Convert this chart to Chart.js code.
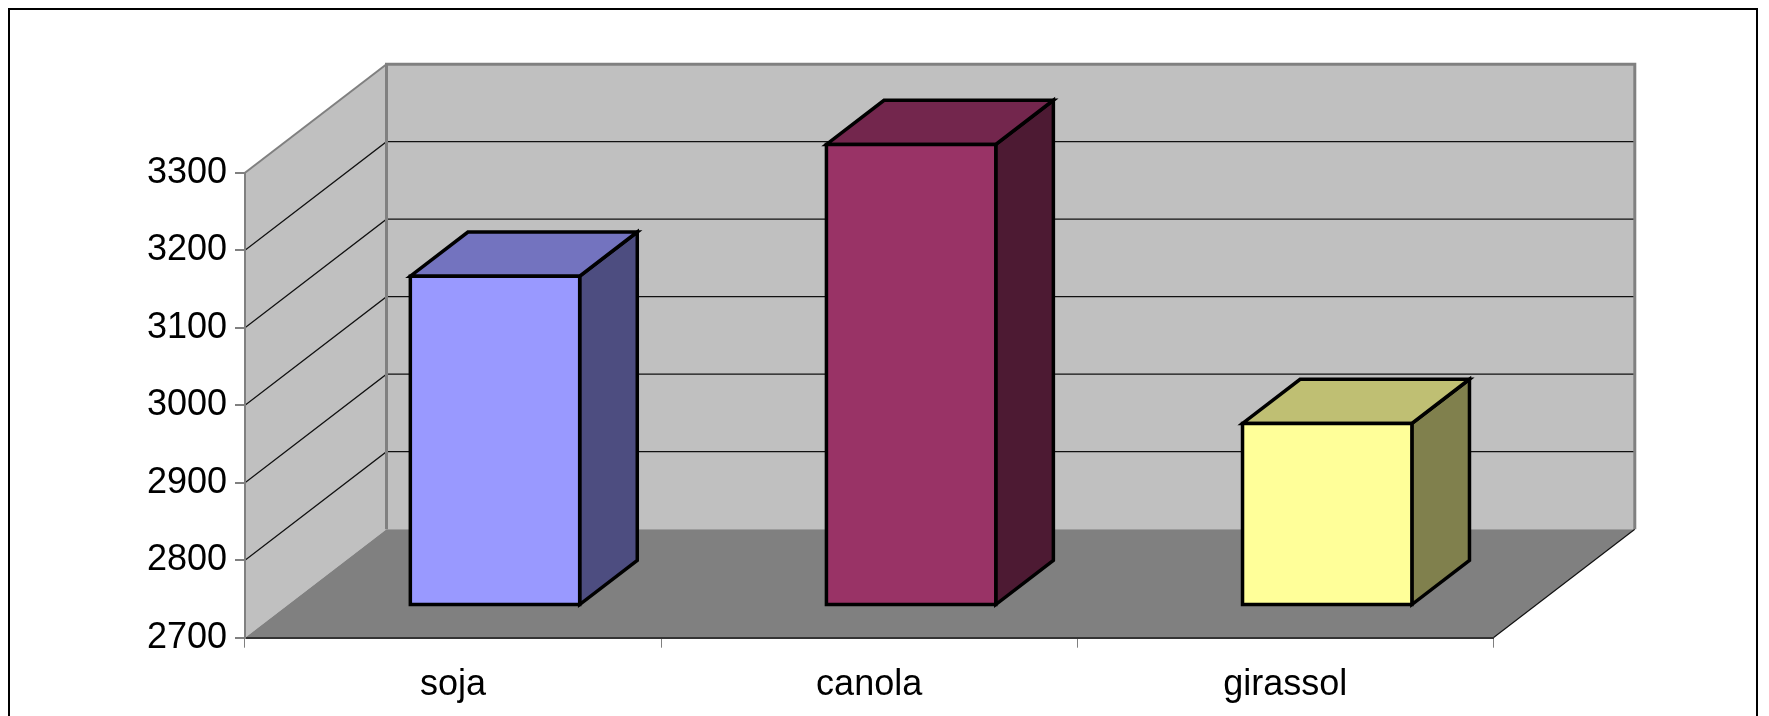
<!DOCTYPE html>
<html>
<head>
<meta charset="utf-8">
<script src="https://cdn.jsdelivr.net/npm/chart.js@4/dist/chart.umd.min.js"></script>
<style>
  html, body { margin: 0; padding: 0; background: #fff; overflow: hidden; }
  #wrap { position: relative; width: 1769px; height: 716px; }
</style>
</head>
<body>
<div id="wrap"><canvas id="c" width="1769" height="716"></canvas></div>
<script>
// Data
const categories = ['soja', 'canola', 'girassol'];
const values = [3125, 3295, 2935];
const yMin = 2700;
const yMax = 3300;
const yStep = 100;

// Face colours for each column (front, top, side)
const frontColors = ['#9999FF', '#993366', '#FFFF99'];
const topColors = ['#7373BF', '#73264D', '#BFBF73'];
const sideColors = ['#4D4D80', '#4D1A33', '#80804D'];

// 3D projection of the plot box (depth vector in pixels)
const DEPTH = { x: 141.5, y: -108.5 };
const FONT = "'Liberation Sans', Arial, sans-serif";

const box3d = {
  id: 'box3d',
  beforeDraw(chart) {
    const ctx = chart.ctx;
    const { left, right, top, bottom } = chart.chartArea;
    const ys = chart.scales.y;
    const dx = DEPTH.x, dy = DEPTH.y;

    ctx.save();
    ctx.fillStyle = '#fff';
    ctx.fillRect(0, 0, chart.width, chart.height);

    // outer frame
    ctx.strokeStyle = '#000';
    ctx.lineWidth = 2;
    ctx.strokeRect(9, 9, 1748, 740);

    // side wall
    ctx.fillStyle = '#C0C0C0';
    ctx.beginPath();
    ctx.moveTo(left, top);
    ctx.lineTo(left + dx, top + dy);
    ctx.lineTo(left + dx, bottom + dy);
    ctx.lineTo(left, bottom);
    ctx.closePath();
    ctx.fill();

    // back wall
    ctx.fillRect(left + dx, top + dy, right - left, bottom - top);

    // floor
    ctx.fillStyle = '#808080';
    ctx.beginPath();
    ctx.moveTo(left, bottom);
    ctx.lineTo(right, bottom);
    ctx.lineTo(right + dx, bottom + dy);
    ctx.lineTo(left + dx, bottom + dy);
    ctx.closePath();
    ctx.fill();

    // gridlines on side and back walls
    ctx.strokeStyle = '#111';
    ctx.lineWidth = 1.2;
    ys.ticks.forEach(t => {
      if (t.value <= yMin || t.value >= yMax) return;
      const py = ys.getPixelForValue(t.value);
      ctx.beginPath();
      ctx.moveTo(left, py);
      ctx.lineTo(left + dx, py + dy);
      ctx.lineTo(right + dx, py + dy);
      ctx.stroke();
    });

    // floor right edge
    ctx.beginPath();
    ctx.moveTo(right, bottom);
    ctx.lineTo(right + dx, bottom + dy);
    ctx.stroke();

    // wall edges
    ctx.strokeStyle = '#808080';
    ctx.lineWidth = 2;
    ctx.beginPath();
    ctx.moveTo(left, top);
    ctx.lineTo(left + dx, top + dy);
    ctx.stroke();
    ctx.lineWidth = 3;
    ctx.beginPath();
    ctx.moveTo(left + dx, bottom + dy);
    ctx.lineTo(left + dx, top + dy);
    ctx.lineTo(right + dx, top + dy);
    ctx.lineTo(right + dx, bottom + dy);
    ctx.stroke();
    ctx.restore();
  },
  afterDatasetsDraw(chart) {
    const ctx = chart.ctx;
    const meta = chart.getDatasetMeta(0);
    const xs = chart.scales.x;
    const catW = (xs.right - xs.left) / categories.length;
    ctx.save();
    ctx.lineJoin = 'miter';
    ctx.strokeStyle = '#000';
    ctx.lineWidth = 3.5;
    meta.data.forEach((el, i) => {
      const p = el.getProps(['x', 'y', 'base', 'width'], true);
      const frac = p.width / catW;
      const ox = DEPTH.x * (1 - frac) / 2, oy = DEPTH.y * (1 - frac) / 2;
      const bx = DEPTH.x * frac, by = DEPTH.y * frac;
      const xl = p.x - p.width / 2 + ox, xr = p.x + p.width / 2 + ox;
      const yt = p.y + oy, yb = p.base + oy;

      const face = (pts, color) => {
        ctx.beginPath();
        ctx.moveTo(pts[0][0], pts[0][1]);
        for (let k = 1; k < pts.length; k++) ctx.lineTo(pts[k][0], pts[k][1]);
        ctx.closePath();
        ctx.fillStyle = color;
        ctx.fill();
        ctx.stroke();
      };
      face([[xr, yt], [xr + bx, yt + by], [xr + bx, yb + by], [xr, yb]], sideColors[i]);
      face([[xl, yt], [xr, yt], [xr + bx, yt + by], [xl + bx, yt + by]], topColors[i]);
      face([[xl, yt], [xr, yt], [xr, yb], [xl, yb]], frontColors[i]);
    });
    ctx.restore();
  }
};

new Chart(document.getElementById('c'), {
  type: 'bar',
  data: {
    labels: categories,
    datasets: [{
      data: values,
      base: yMin,
      backgroundColor: 'rgba(0,0,0,0)',
      borderWidth: 0,
      barPercentage: 0.407,
      categoryPercentage: 1
    }]
  },
  options: {
    responsive: false,
    animation: false,
    devicePixelRatio: 1,
    layout: { padding: { top: 172.7, right: 275.7, bottom: 0, left: 0 } },
    plugins: { legend: { display: false }, tooltip: { enabled: false }, title: { display: false } },
    scales: {
      x: {
        type: 'category',
        offset: true,
        grid: { offset: true, drawOnChartArea: false, drawTicks: true, tickLength: 10, color: '#808080', lineWidth: 1 },
        border: { display: true, color: '#333333', width: 2 },
        ticks: { color: '#000', font: { family: FONT, size: 36 }, padding: 16, maxRotation: 0 },
        afterFit(s) { s.height = 716 - 637.7; }
      },
      y: {
        min: yMin,
        max: yMax,
        grid: { drawOnChartArea: false, drawTicks: true, tickLength: 10, color: '#808080', lineWidth: 2 },
        border: { display: true, color: '#808080', width: 2 },
        ticks: {
          stepSize: yStep,
          color: '#000',
          font: { family: FONT, size: 36 },
          padding: 8,
          callback: v => String(v)
        },
        afterFit(s) { s.width = 245; }
      }
    }
  },
  plugins: [box3d]
});
</script>
</body>
</html>
